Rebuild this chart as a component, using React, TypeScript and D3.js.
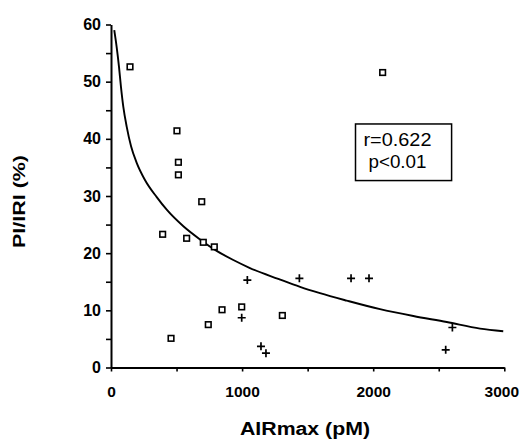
import React, { useEffect, useRef } from 'react';
import * as d3 from 'd3';

// open squares
const squareX = [145, 503, 514, 514, 692, 394, 577, 704, 788, 458, 742, 847, 997, 1307, 2072];
const squareY = [52.6, 41.4, 35.9, 33.7, 29.0, 23.3, 22.6, 21.9, 21.1, 5.1, 7.5, 10.1, 10.6, 9.1, 51.6];

// crosses
const plusX = [1040, 997, 1144, 1182, 1437, 1831, 1968, 2553, 2604];
const plusY = [15.3, 8.7, 3.7, 2.5, 15.6, 15.6, 15.6, 3.1, 7.0];

// fitted curve
const curveX = [25, 43, 61, 76, 94, 120, 153, 196, 259, 349, 425, 552, 679, 806, 933, 1060, 1276, 1442, 1594, 1798, 2052, 2306, 2561, 2815, 2992];
const curveY = [59.0, 56.1, 52.6, 49.1, 45.6, 42.1, 38.7, 35.8, 32.8, 29.8, 27.6, 24.7, 22.4, 20.4, 18.8, 17.4, 15.5, 14.1, 13.0, 11.7, 10.2, 9.0, 7.95, 6.8, 6.35];

const xTicks = [0, 1000, 2000, 3000];
const xMinor = [500, 1500, 2500];
const yTicks = [0, 10, 20, 30, 40, 50, 60];
const yMinor = [5, 15, 25, 35, 45, 55];

const statLines = ['r=0.622', 'p<0.01'];

const W = 521;
const H = 441;
const FONT = '"Liberation Sans", Arial, Helvetica, sans-serif';

const x = d3.scaleLinear().domain([0, 3000]).range([111, 504.3]);
const y = d3.scaleLinear().domain([0, 60]).range([367.5, 24.5]);

export default function App() {
  const xRef = useRef<SVGGElement>(null);
  const yRef = useRef<SVGGElement>(null);

  useEffect(() => {
    const gx = d3.select(xRef.current!);
    gx.selectAll('*').remove();
    gx.append('g')
      .call(d3.axisBottom(x).tickValues(xMinor).tickSize(4).tickFormat(() => ''))
      .call(g => g.select('.domain').remove());
    gx.append('g')
      .call(d3.axisBottom(x).tickValues(xTicks).tickSize(4).tickSizeOuter(0).tickPadding(14).tickFormat(d3.format('d')));
    gx.selectAll('text')
      .attr('font-family', FONT).attr('font-size', 15.5).attr('font-weight', 'bold').attr('fill', '#000');
    // last label sits a little left of its tick in the original
    gx.selectAll<SVGTextElement, number>('text').filter(d => d === 3000).attr('dx', -3);

    const gy = d3.select(yRef.current!);
    gy.selectAll('*').remove();
    gy.append('g')
      .call(d3.axisLeft(y).tickValues(yMinor).tickSize(5).tickFormat(() => ''))
      .call(g => g.select('.domain').remove());
    gy.append('g')
      .call(d3.axisLeft(y).tickValues(yTicks).tickSize(5).tickSizeOuter(0).tickPadding(5));
    gy.selectAll('text')
      .attr('font-family', FONT).attr('font-size', 16).attr('font-weight', 'bold').attr('fill', '#000');

    [gx, gy].forEach(g => {
      g.selectAll('.domain').attr('stroke', '#000').attr('stroke-width', 2);
      g.selectAll('.tick line').attr('stroke', '#000').attr('stroke-width', 1.6);
    });
  }, []);

  const curve = d3.line<number>()
    .x((d, i) => x(curveX[i]))
    .y(d => y(d))
    .curve(d3.curveMonotoneX);

  const boxX0 = x(1865), boxX1 = x(2598);
  const boxY0 = y(42.6), boxY1 = y(32.7);
  const boxCx = x(2185);

  return (
    <svg width={W} height={H} style={{ position: 'absolute', left: 0, top: 0, background: '#fff' }}>
      <g ref={xRef} transform={`translate(0,${y(0)})`} />
      <g ref={yRef} transform={`translate(${x(0)},0)`} />

      <path d={curve(curveY) ?? ''} fill="none" stroke="#000" strokeWidth={1.9} />

      {squareX.map((v, i) => (
        <rect key={'s' + i} x={x(v) - 2.8} y={y(squareY[i]) - 2.8} width={5.6} height={5.6}
          fill="#fff" stroke="#000" strokeWidth={1.6} />
      ))}

      {plusX.map((v, i) => (
        <path key={'p' + i}
          d={`M${x(v) - 4},${y(plusY[i])}h8M${x(v)},${y(plusY[i]) - 4}v8`}
          stroke="#000" strokeWidth={1.7} fill="none" />
      ))}

      <rect x={boxX0} y={boxY0} width={boxX1 - boxX0} height={boxY1 - boxY0}
        fill="#fff" stroke="#000" strokeWidth={1.5} />
      <text x={boxCx} y={146} textAnchor="middle" fontFamily={FONT} fontSize={18}
        textLength={68} lengthAdjust="spacingAndGlyphs">{statLines[0]}</text>
      <text x={boxCx} y={167.5} textAnchor="middle" fontFamily={FONT} fontSize={18}
        textLength={58} lengthAdjust="spacingAndGlyphs">{statLines[1]}</text>

      <text x={305} y={435} textAnchor="middle" fontFamily={FONT} fontSize={18} fontWeight="bold"
        textLength={130} lengthAdjust="spacingAndGlyphs">AIRmax (pM)</text>
      <text transform="translate(25,201.5) rotate(-90)" textAnchor="middle" fontFamily={FONT}
        fontSize={17} fontWeight="bold" textLength={93} lengthAdjust="spacingAndGlyphs">PI/IRI (%)</text>
    </svg>
  );
}
